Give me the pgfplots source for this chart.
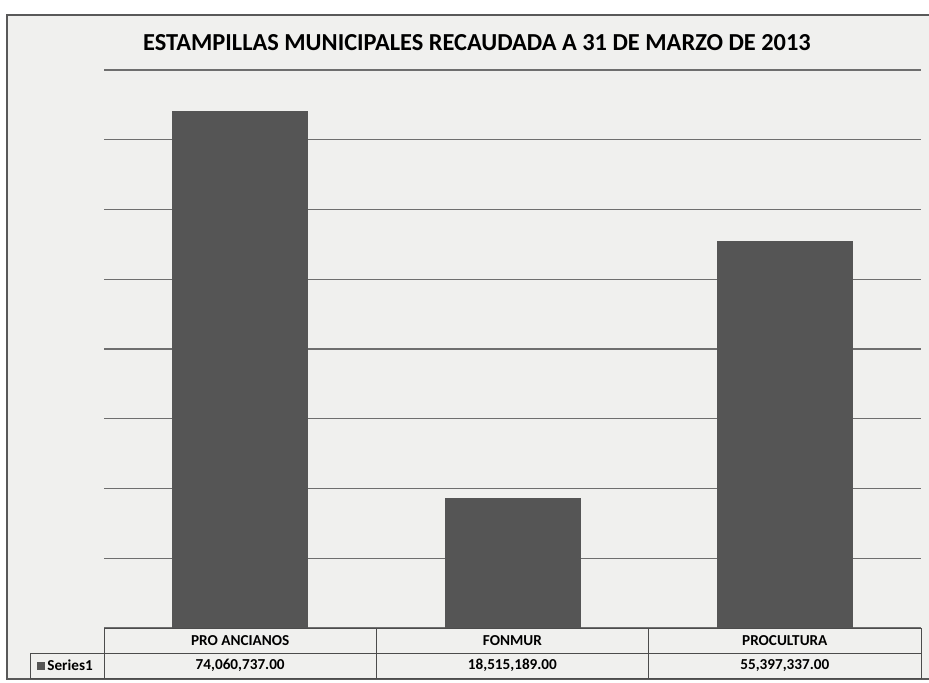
\documentclass[border=0pt]{standalone}
\usepackage{pgfplots}
\pgfplotsset{compat=1.18}
\usepackage{fontspec}
\setmainfont{Carlito}
\definecolor{barcol}{HTML}{555555}
\definecolor{bgcol}{HTML}{F0F0EE}
\definecolor{gridcol}{HTML}{6E6E6E}

\begin{document}
\begin{tikzpicture}[x=1pt,y=1pt]
  % picture bounds (929 x 682 px at 0.5pt per px)
  \useasboundingbox (-52,-27) rectangle (412.5,314);
  \fill[white] (-52,-27) rectangle (412.5,314);
  \fill[bgcol] (-48.5,-25.5) rectangle (414,306.5);
  \draw[gray!70!black, line width=0.6pt] (414,306.5) -- (-48.5,306.5) -- (-48.5,-25.5) -- (414,-25.5);

  \begin{axis}[
    at={(0,0)}, anchor=south west,
    scale only axis,
    width=408.5pt, height=279pt,
    ybar, bar width=67.5pt,
    xmin=-0.5, xmax=2.5,
    ymin=0, ymax=80000000,
    ytick={0,10000000,20000000,30000000,40000000,50000000,60000000,70000000,80000000},
    yticklabels={}, xtick=\empty,
    scaled y ticks=false,
    ymajorgrids,
    grid style={gridcol, line width=0.6pt},
    axis line style={draw=none},
    major tick length=0pt,
    clip=false,
  ]
  \addplot[fill=barcol, draw=barcol] coordinates {
    (0, 74060737)
    (1, 18515189)
    (2, 55397337)
  };
  \end{axis}

  % data table under the bars
  \draw[gray!60!black, line width=0.5pt]
    (0,0) -- (408.5,0)
    (0,0) -- (0,-25) -- (408.5,-25) -- (408.5,0)
    (-36.5,-12.5) -- (408.5,-12.5)
    (-36.5,-12.5) -- (-36.5,-25) -- (0,-25)
    (136.2,0) -- (136.2,-25)
    (272.3,0) -- (272.3,-25);
  \begin{scope}[font=\bfseries\fontsize{7.6}{9}\selectfont]
    \node at (68.1,-6.3) {PRO ANCIANOS};
    \node at (204.2,-6.3) {FONMUR};
    \node at (340.4,-6.3) {PROCULTURA};
    \node at (68.1,-18.8) {74,060,737.00};
    \node at (204.2,-18.8) {18,515,189.00};
    \node at (340.4,-18.8) {55,397,337.00};
    \fill[barcol] (-33.5,-21) rectangle (-29.5,-17);
    \node[anchor=west, inner sep=0pt] at (-28.5,-18.8) {Series1};
  \end{scope}

  \node[font=\bfseries\fontsize{12.2}{14}\selectfont] at (186.5,292.5)
    {ESTAMPILLAS MUNICIPALES RECAUDADA A 31 DE MARZO DE 2013};
\end{tikzpicture}
\end{document}
